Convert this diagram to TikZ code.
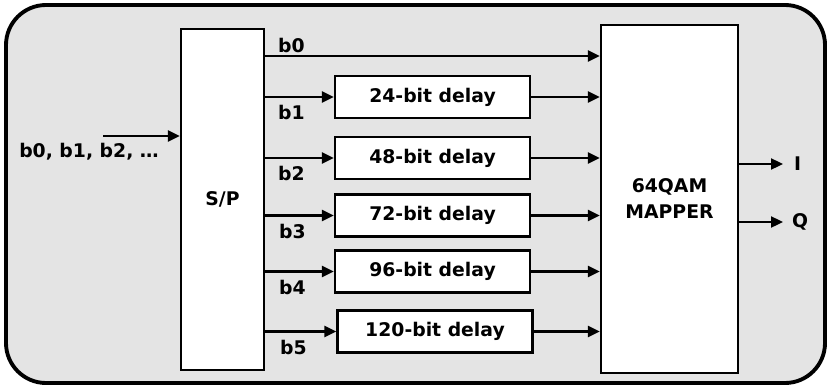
\documentclass[tikz,border=0pt]{standalone}
\usepackage{fontspec}
\setmainfont{DejaVu Sans}
\usetikzlibrary{arrows.meta}
\definecolor{panelgray}{RGB}{228,228,228}

\begin{document}
\begin{tikzpicture}[>={Triangle[length=0.24cm,width=0.22cm]},line width=1.3pt,
  font=\fontsize{10.7pt}{14.8pt}\selectfont\bfseries,
  blk/.style={draw,fill=white,inner sep=0pt},
  dly/.style={blk,minimum width=3.9cm,minimum height=0.84cm},
  lbl/.style={inner sep=0pt,anchor=base west}]
\useasboundingbox (0,0) rectangle (16.58,7.76);
\draw[fill=panelgray,line width=2.2pt,rounded corners=0.8cm] (0.12,0.10) rectangle (16.50,7.66);
% blocks
\node[blk,minimum width=1.66cm,minimum height=6.82cm] (sp) at (4.45,3.77) {S/P};
\node[blk,minimum width=2.74cm,minimum height=6.96cm,align=center] (map) at (13.39,3.78) {64QAM\\MAPPER};
\node[dly] (d24) at (8.65,5.82) {24-bit delay};
\node[dly] (d48) at (8.65,4.60) {48-bit delay};
\node[dly] (d72) at (8.65,3.45) {72-bit delay};
\node[dly] (d96) at (8.65,2.33) {96-bit delay};
\node[dly] (d120) at (8.70,1.13) {120-bit delay};
% input
\coordinate (in) at (2.06,5.04);
\node[anchor=base] (inlbl) at (1.78,4.62) {b0, b1, b2, \ldots};
\draw[->] (in) -- (sp.west |- in);
% branches
\coordinate (row0) at (0,6.64);
\draw[->] (sp.east |- row0) -- (map.west |- row0);
\draw[->] (sp.east |- d24) -- (d24);
\draw[->] (d24) -- (map.west |- d24);
\draw[->] (sp.east |- d48) -- (d48);
\draw[->] (d48) -- (map.west |- d48);
\draw[->] (sp.east |- d72) -- (d72);
\draw[->] (d72) -- (map.west |- d72);
\draw[->] (sp.east |- d96) -- (d96);
\draw[->] (d96) -- (map.west |- d96);
\draw[->] (sp.east |- d120) -- (d120);
\draw[->] (d120) -- (map.west |- d120);
\node[lbl] (lb0) at (5.54,6.70) {b0};
\node[lbl] (lb1) at (5.54,5.38) {b1};
\node[lbl] (lb2) at (5.54,4.15) {b2};
\node[lbl] (lb3) at (5.56,3.00) {b3};
\node[lbl] (lb4) at (5.56,1.88) {b4};
\node[lbl] (lb5) at (5.58,0.68) {b5};
% outputs
\node[anchor=west,inner sep=0pt,inner xsep=0.2cm] (outI) at (15.66,4.48) {I};
\node[anchor=west,inner sep=0pt,inner xsep=0.16cm] (outQ) at (15.66,3.32) {Q};
\draw[->] (map.east |- outI) -- (outI);
\draw[->] (map.east |- outQ) -- (outQ);
\end{tikzpicture}
\end{document}
